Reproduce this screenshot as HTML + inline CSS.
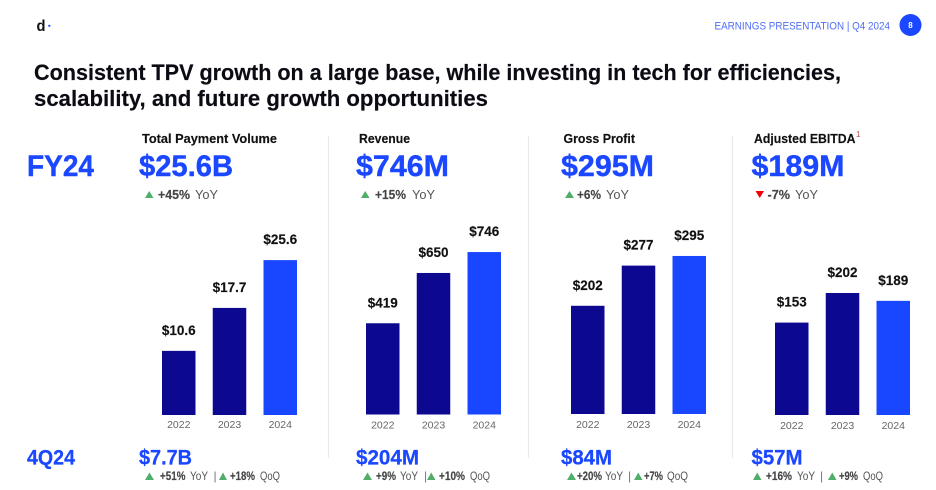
<!DOCTYPE html>
<html lang="en">
<head>
<meta charset="utf-8">
<title>Consistent TPV growth</title>
<style>
html,body{margin:0;padding:0;background:#fff;width:936px;height:490px;overflow:hidden}
svg{display:block}
text{font-family:"Liberation Sans",sans-serif}
.title{font-size:22px;font-weight:700;fill:#0b0b14;stroke:#0b0b14;stroke-width:.15}
.metric{font-size:12.5px;font-weight:700;fill:#111;stroke:#111;stroke-width:.15}
.big{font-size:30px;font-weight:700;fill:#1a47ff;stroke:#1a47ff;stroke-width:.4}
.mid{font-size:21px;font-weight:700;fill:#1a47ff;stroke:#1a47ff;stroke-width:.25}
.chg{font-size:13px;font-weight:700;fill:#444;stroke:#444;stroke-width:.15}
.yoy{font-size:13px;fill:#555}
.chg2{font-size:11.5px;font-weight:700;fill:#444;stroke:#444;stroke-width:.15}
.yoy2{font-size:11.5px;fill:#555}
.sep{font-size:12px;fill:#777}
.val{font-size:13.5px;font-weight:700;fill:#111;text-anchor:middle;stroke:#111;stroke-width:.15}
.yr{font-size:10.5px;fill:#666;text-anchor:middle}
.up{fill:#4fae68}
.down{fill:#f00000}
.div{stroke:#e9e9e9;stroke-width:1.2}
</style>
</head>
<body>
<svg id="slide" width="936" height="490" viewBox="0 0 936 490" xmlns="http://www.w3.org/2000/svg">
  <rect width="936" height="490" fill="#fff"/>

  <g>
    <text x="36.5" y="31" font-size="16" font-weight="700" fill="#111" textLength="9" lengthAdjust="spacingAndGlyphs">d</text>
    <circle cx="49.3" cy="25.8" r="1.1" fill="#1a47ff"/>
  </g>
  <text x="714.5" y="29.5" font-size="11" fill="#4f6ef5" textLength="175.5" lengthAdjust="spacingAndGlyphs">EARNINGS PRESENTATION | Q4 2024</text>
  <circle cx="910.5" cy="25" r="11" fill="#1a47ff"/>
  <text x="910.5" y="28" font-size="8" font-weight="700" fill="#fff" text-anchor="middle">8</text>

  <text class="title" x="34" y="80" textLength="807" lengthAdjust="spacingAndGlyphs">Consistent TPV growth on a large base, while investing in tech for efficiencies,</text>
  <text class="title" x="34" y="106" textLength="454" lengthAdjust="spacingAndGlyphs">scalability, and future growth opportunities</text>

  <line class="div" x1="328.5" y1="136" x2="328.5" y2="458"/>
  <line class="div" x1="528.5" y1="136" x2="528.5" y2="458"/>
  <line class="div" x1="732.5" y1="136" x2="732.5" y2="458"/>

  <text class="big" x="27" y="176" textLength="67" lengthAdjust="spacingAndGlyphs">FY24</text>
  <text class="mid" x="27" y="464.5" textLength="48" lengthAdjust="spacingAndGlyphs">4Q24</text>

  <!-- Total Payment Volume -->
  <g>
    <text class="metric" x="142" y="143" textLength="135" lengthAdjust="spacingAndGlyphs">Total Payment Volume</text>
    <text class="big" x="139" y="176" textLength="94" lengthAdjust="spacingAndGlyphs">$25.6B</text>
    <polygon class="up" points="145,198 153.5,198 149.25,191"/>
    <text class="chg" x="158" y="199" textLength="32" lengthAdjust="spacingAndGlyphs">+45%</text>
    <text class="yoy" x="195" y="199" textLength="23" lengthAdjust="spacingAndGlyphs">YoY</text>
    <text class="mid" x="139" y="464.5" textLength="53" lengthAdjust="spacingAndGlyphs">$7.7B</text>
    <polygon class="up" points="145,480 154,480 149.5,472.5"/>
    <text class="chg2" x="160" y="480" textLength="25.5" lengthAdjust="spacingAndGlyphs">+51%</text>
    <text class="yoy2" x="190" y="480" textLength="18" lengthAdjust="spacingAndGlyphs">YoY</text>
    <text class="sep" x="213.5" y="480">|</text>
    <polygon class="up" points="219,480 227,480 223,472.5"/>
    <text class="chg2" x="230" y="480" textLength="25" lengthAdjust="spacingAndGlyphs">+18%</text>
    <text class="yoy2" x="260" y="480" textLength="20" lengthAdjust="spacingAndGlyphs">QoQ</text>
  </g>

  <!-- Revenue -->
  <g>
    <text class="metric" x="359" y="143" textLength="51" lengthAdjust="spacingAndGlyphs">Revenue</text>
    <text class="big" x="356" y="176" textLength="93" lengthAdjust="spacingAndGlyphs">$746M</text>
    <polygon class="up" points="361,198 369.5,198 365.25,191"/>
    <text class="chg" x="375" y="199" textLength="31" lengthAdjust="spacingAndGlyphs">+15%</text>
    <text class="yoy" x="412" y="199" textLength="23" lengthAdjust="spacingAndGlyphs">YoY</text>
    <text class="mid" x="356" y="464.5" textLength="63" lengthAdjust="spacingAndGlyphs">$204M</text>
    <polygon class="up" points="363,480 372,480 367.5,472.5"/>
    <text class="chg2" x="376" y="480" textLength="20" lengthAdjust="spacingAndGlyphs">+9%</text>
    <text class="yoy2" x="400" y="480" textLength="18" lengthAdjust="spacingAndGlyphs">YoY</text>
    <text class="sep" x="424" y="480">|</text>
    <polygon class="up" points="427,480 435.5,480 431.25,472.5"/>
    <text class="chg2" x="439" y="480" textLength="26" lengthAdjust="spacingAndGlyphs">+10%</text>
    <text class="yoy2" x="470" y="480" textLength="20" lengthAdjust="spacingAndGlyphs">QoQ</text>
  </g>

  <!-- Gross Profit -->
  <g>
    <text class="metric" x="563.5" y="143" textLength="71.5" lengthAdjust="spacingAndGlyphs">Gross Profit</text>
    <text class="big" x="561" y="176" textLength="93" lengthAdjust="spacingAndGlyphs">$295M</text>
    <polygon class="up" points="565,198 574,198 569.5,191"/>
    <text class="chg" x="577" y="199" textLength="24" lengthAdjust="spacingAndGlyphs">+6%</text>
    <text class="yoy" x="606" y="199" textLength="23" lengthAdjust="spacingAndGlyphs">YoY</text>
    <text class="mid" x="561" y="464.5" textLength="51" lengthAdjust="spacingAndGlyphs">$84M</text>
    <polygon class="up" points="567,480 576,480 571.5,472.5"/>
    <text class="chg2" x="577" y="480" textLength="25" lengthAdjust="spacingAndGlyphs">+20%</text>
    <text class="yoy2" x="605" y="480" textLength="18" lengthAdjust="spacingAndGlyphs">YoY</text>
    <text class="sep" x="628" y="480">|</text>
    <polygon class="up" points="634,480 642.5,480 638.25,472.5"/>
    <text class="chg2" x="644" y="480" textLength="19" lengthAdjust="spacingAndGlyphs">+7%</text>
    <text class="yoy2" x="667" y="480" textLength="21" lengthAdjust="spacingAndGlyphs">QoQ</text>
  </g>

  <!-- Adjusted EBITDA -->
  <g>
    <text class="metric" x="754" y="143" textLength="101.5" lengthAdjust="spacingAndGlyphs">Adjusted EBITDA</text>
    <text x="856" y="137" font-size="8" fill="#c0504d">1</text>
    <text class="big" x="751.5" y="176" textLength="93" lengthAdjust="spacingAndGlyphs">$189M</text>
    <polygon class="down" points="755.5,191 764,191 759.75,198"/>
    <text class="chg" x="767.5" y="199" textLength="22.5" lengthAdjust="spacingAndGlyphs">-7%</text>
    <text class="yoy" x="795" y="199" textLength="23" lengthAdjust="spacingAndGlyphs">YoY</text>
    <text class="mid" x="751.5" y="464.5" textLength="51" lengthAdjust="spacingAndGlyphs">$57M</text>
    <polygon class="up" points="753,480 761.5,480 757.25,472.5"/>
    <text class="chg2" x="766" y="480" textLength="26" lengthAdjust="spacingAndGlyphs">+16%</text>
    <text class="yoy2" x="797" y="480" textLength="18" lengthAdjust="spacingAndGlyphs">YoY</text>
    <text class="sep" x="820" y="480">|</text>
    <polygon class="up" points="828,480 836.5,480 832.25,472.5"/>
    <text class="chg2" x="839" y="480" textLength="19" lengthAdjust="spacingAndGlyphs">+9%</text>
    <text class="yoy2" x="863" y="480" textLength="20" lengthAdjust="spacingAndGlyphs">QoQ</text>
  </g>

  <g id="charts"></g>
</svg>

<script>
const categories = ['2022', '2023', '2024'];
const tpvValues = [10.6, 17.7, 25.6];
const revenueValues = [419, 650, 746];
const grossProfitValues = [202, 277, 295];
const ebitdaValues = [153, 202, 189];

const NS = 'http://www.w3.org/2000/svg';
const chartsGroup = document.getElementById('charts');

const panels = [
  {key: 'tpv', values: tpvValues, left: 162, base: 415, yearY: 428, domainMax: 30, rangePx: 181.5},
  {key: 'revenue', values: revenueValues, left: 366, base: 414.5, yearY: 428.5, domainMax: 800, rangePx: 174.2},
  {key: 'gross-profit', values: grossProfitValues, left: 571, base: 414, yearY: 428, domainMax: 350, rangePx: 187.5},
  {key: 'ebitda', values: ebitdaValues, left: 775, base: 415, yearY: 429, domainMax: 250, rangePx: 151}
];
const BAR_WIDTH = 33.5;
const BAR_STEP = 50.75;

function xScale(panel, index) {
  return panel.left + index * BAR_STEP;
}
function yScale(panel, value) {
  return panel.base - (value / panel.domainMax) * panel.rangePx;
}

panels.forEach(function (panel) {
  const group = document.createElementNS(NS, 'g');
  
  
  chartsGroup.appendChild(group);

  panel.values.forEach(function (value, i) {
    const year = categories[i];
    const x = xScale(panel, i);
    const top = yScale(panel, value);

    const bar = document.createElementNS(NS, 'rect');
    bar.setAttribute('x', x);
    bar.setAttribute('y', top);
    bar.setAttribute('width', BAR_WIDTH);
    bar.setAttribute('height', panel.base - top);
    bar.setAttribute('fill', i === panel.values.length - 1 ? '#1847ff' : '#0d0890');
    
    
    group.appendChild(bar);

    const label = document.createElementNS(NS, 'text');
    label.setAttribute('class', 'val');
    label.setAttribute('x', x + BAR_WIDTH / 2);
    label.setAttribute('y', top - 16);
    label.textContent = '$' + value;
    
    
    group.appendChild(label);

    const tick = document.createElementNS(NS, 'text');
    tick.setAttribute('class', 'yr');
    tick.setAttribute('x', x + BAR_WIDTH / 2);
    tick.setAttribute('y', panel.yearY);
    tick.textContent = year;
    
    
    group.appendChild(tick);
  });
});
</script>
</body>
</html>
